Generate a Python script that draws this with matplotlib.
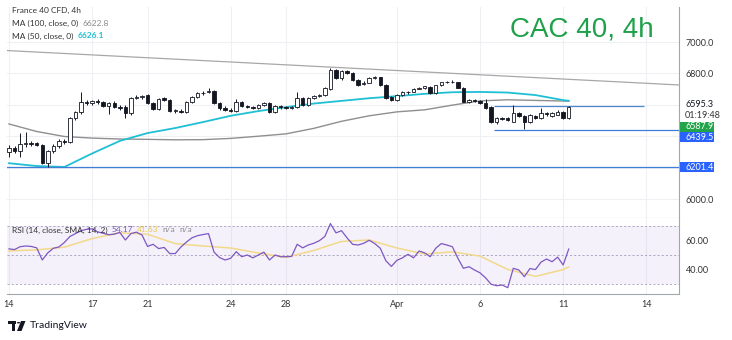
import matplotlib
matplotlib.use("Agg")
import matplotlib.pyplot as plt
from matplotlib.patches import Rectangle, Circle, Polygon
import numpy as np

# 4h candles, 14 Mar -> 11 Apr (5 bars per session)
opens = [6300, 6322, 6306, 6350, 6358, 6354, 6342, 6232, 6305, 6340,
         6370, 6362, 6515, 6552, 6618, 6612, 6622, 6618, 6590, 6614,
         6588, 6585, 6546, 6643, 6650, 6660, 6610, 6575, 6642, 6630,
         6562, 6562, 6552, 6620, 6650, 6675, 6680, 6690, 6611, 6578,
         6570, 6562, 6618, 6592, 6586, 6582, 6600, 6611, 6556, 6590,
         6586, 6582, 6586, 6643, 6600, 6645, 6656, 6662, 6700, 6822,
         6771, 6815, 6803, 6758, 6730, 6742, 6771, 6775, 6728, 6648,
         6630, 6662, 6681, 6684, 6702, 6706, 6716, 6676, 6724, 6744,
         6746, 6743, 6709, 6620, 6632, 6622, 6612, 6584, 6492, 6516,
         6514, 6492, 6548, 6528, 6490, 6530, 6516, 6548, 6530, 6538,
         6556, 6516]
highs = [6344, 6335, 6420, 6427, 6372, 6366, 6350, 6312, 6350, 6382,
         6385, 6525, 6560, 6682, 6632, 6630, 6635, 6625, 6620, 6625,
         6598, 6600, 6652, 6662, 6665, 6668, 6618, 6645, 6650, 6635,
         6575, 6575, 6625, 6655, 6680, 6685, 6707, 6695, 6618, 6590,
         6582, 6640, 6625, 6600, 6595, 6605, 6618, 6616, 6598, 6600,
         6594, 6592, 6682, 6650, 6648, 6662, 6666, 6712, 6834, 6830,
         6822, 6820, 6808, 6765, 6752, 6775, 6782, 6780, 6732, 6655,
         6668, 6685, 6690, 6708, 6712, 6722, 6720, 6728, 6748, 6752,
         6755, 6748, 6712, 6640, 6638, 6628, 6640, 6590, 6525, 6524,
         6520, 6600, 6556, 6536, 6540, 6535, 6580, 6556, 6556, 6566,
         6560, 6595.3]
lows = [6270, 6295, 6268, 6331, 6338, 6335, 6225, 6201.4, 6290, 6325,
        6352, 6355, 6505, 6540, 6600, 6598, 6605, 6585, 6540, 6580,
        6570, 6516, 6538, 6635, 6640, 6605, 6568, 6570, 6622, 6555,
        6550, 6548, 6545, 6612, 6645, 6665, 6675, 6605, 6570, 6560,
        6555, 6555, 6585, 6578, 6574, 6575, 6594, 6550, 6550, 6575,
        6576, 6574, 6580, 6595, 6595, 6640, 6648, 6658, 6694, 6765,
        6760, 6798, 6750, 6722, 6725, 6738, 6765, 6720, 6640, 6625,
        6626, 6655, 6672, 6680, 6698, 6700, 6672, 6670, 6720, 6738,
        6738, 6705, 6615, 6614, 6618, 6608, 6576, 6485, 6480, 6505,
        6498, 6488, 6525, 6445, 6486, 6512, 6512, 6530, 6522, 6532,
        6510, 6512]
closes = [6325, 6306, 6352, 6358, 6352, 6342, 6232, 6305, 6340, 6368,
          6362, 6515, 6552, 6618, 6612, 6622, 6615, 6590, 6612, 6588,
          6582, 6546, 6643, 6650, 6655, 6610, 6575, 6640, 6630, 6560,
          6566, 6555, 6620, 6650, 6675, 6678, 6690, 6611, 6578, 6567,
          6562, 6618, 6592, 6586, 6582, 6600, 6611, 6556, 6592, 6586,
          6582, 6588, 6643, 6600, 6643, 6656, 6660, 6707, 6822, 6771,
          6815, 6803, 6758, 6728, 6742, 6771, 6775, 6728, 6645, 6630,
          6662, 6681, 6684, 6702, 6706, 6718, 6676, 6724, 6744, 6746,
          6743, 6709, 6620, 6632, 6622, 6612, 6582, 6492, 6516, 6512,
          6503, 6548, 6530, 6490, 6532, 6518, 6548, 6540, 6548, 6556,
          6516, 6587.9]

# moving averages, one reading per session
ma_idx = [0, 5, 10, 15, 20, 25, 30, 35, 40, 45, 50,
          55, 60, 65, 70, 75, 80, 85, 90, 95, 100, 101]
ma100 = [6478, 6430, 6398, 6388, 6382, 6380, 6377, 6378, 6386, 6400, 6415,
         6450, 6495, 6530, 6555, 6568, 6598, 6625, 6632, 6628, 6624, 6622.8]
ma50 = [6228, 6210, 6204, 6290, 6370, 6420, 6452, 6490, 6530, 6560, 6585,
        6608, 6625, 6642, 6655, 6670, 6680, 6682, 6678, 6662, 6630, 6626.1]

rsi = [54.3, 53.8, 55.8, 56.3, 56.0, 55.0, 46.5, 51.5, 54.7, 55.6,
       58.8, 63.0, 65.0, 67.0, 68.0, 68.3, 66.2, 65.2, 64.2, 64.6,
       65.8, 60.5, 65.0, 66.0, 64.0, 56.0, 57.5, 54.5, 55.3, 51.0,
       51.0, 55.5, 59.0, 62.0, 63.5, 64.3, 65.0, 52.0, 48.2, 46.5,
       47.7, 52.3, 48.8, 50.0, 48.0, 50.0, 52.0, 46.5, 50.0, 48.8,
       48.8, 49.0, 57.5, 55.0, 57.0, 58.2, 60.0, 63.0, 72.0, 65.5,
       67.0, 62.0, 57.5, 57.0, 58.2, 60.3, 58.0, 54.7, 46.0, 42.0,
       46.3, 48.0, 50.5, 48.0, 52.8, 51.5, 48.8, 54.7, 58.0, 57.0,
       55.8, 47.7, 40.7, 41.8, 39.5, 37.5, 34.0, 29.5, 28.5, 29.0,
       27.1, 40.7, 39.5, 34.8, 40.5, 39.8, 45.0, 47.2, 45.3, 48.5,
       43.0, 54.17]
rsi_sma = [52.9, 53.6, 55.5, 61.5, 65.6, 64.5, 58.0, 56.3, 54.9, 51.4, 48.3,
           53.2, 59.5, 60.5, 54.9, 50.7, 52.2, 49.2, 39.9, 35.0, 39.8, 41.63]

trend_a = (0, 6945)
trend_b = (120, 6728)
range_top = 6595.3
range_bottom = 6439.5
range_span = (87.5, 114.5)
support = 6201.4

day_ticks = [0, 15, 25, 40, 50, 70, 85, 100, 115]
day_labels = ["14", "17", "21", "24", "28", "Apr", "6", "11", "14"]

W, H = 732, 340
FONT = "Lato"
INK = "#131722"
GRID = "#eef0f4"
AXIS = "#a3a6af"
LEG = 6.0

fig = plt.figure(figsize=(W / 100, H / 100), dpi=100)
fig.patch.set_facecolor("white")


def box(x0, y0, x1, y1):
    return [x0 / W, 1 - y1 / H, (x1 - x0) / W, (y1 - y0) / H]


def ftext(px, py, s, **kw):
    kw.setdefault("family", FONT)
    kw.setdefault("va", "center")
    return fig.text(px / W, 1 - py / H, s, **kw)


def legend_row(px, py, parts):
    # parts: list of (text, colour, weight); each piece follows the previous one
    renderer = fig.canvas.get_renderer()
    for s, col, wt in parts:
        t = ftext(px, py, s, size=LEG, color=col, weight=wt)
        px = t.get_window_extent(renderer).x1 + 4


ax = fig.add_axes(box(7, 7, 679, 218))
ax_rsi = fig.add_axes(box(7, 218, 679, 294), sharex=ax)

x = np.arange(len(closes))
o = np.array(opens)
c = np.array(closes)
up = c >= o

# grid
for t in day_ticks:
    ax.axvline(t, color=GRID, lw=0.8, zorder=0)
    ax_rsi.axvline(t, color=GRID, lw=0.8, zorder=0)
for lvl in range(6000, 7001, 200):
    ax.axhline(lvl, color=GRID, lw=0.8, zorder=0)

# price pane
ax.axline(trend_a, trend_b, color="#a8a8a8", lw=0.9, zorder=1)
ax.plot(ma_idx, ma100, color="#8f8f8f", lw=1.0, zorder=1)
ax.plot(ma_idx, ma50, color="#1fbfd4", lw=1.3, zorder=1)
ax.hlines(range_top, *range_span, color="#4a86c8", lw=0.9, zorder=1)
ax.hlines(range_bottom, range_span[0], 125, color="#3d7fd6", lw=0.9, zorder=1)
ax.axhline(support, color="#3d7fd6", lw=0.9, zorder=1)

ax.vlines(x, lows, highs, color=INK, lw=0.7, zorder=2)
ax.bar(x, np.maximum(np.abs(c - o), 0.5), bottom=np.minimum(o, c), width=0.62,
       color=np.where(up, "white", INK), edgecolor=INK, linewidth=0.6, zorder=3)

ax.set_xlim(-0.36, 120.9)
ax.set_ylim(5879, 7223)
ax.yaxis.tick_right()
ax.set_yticks(list(range(6000, 7001, 200)))
ax.set_yticklabels(["6000.0", "", "", "", "6800.0", "7000.0"])
ax.tick_params(axis="y", length=0, pad=5, labelsize=6.5, labelcolor="#333333")
ax.tick_params(axis="x", length=0, labelbottom=False)
for lab in ax.get_yticklabels():
    lab.set_family(FONT)
for side in ("top", "left"):
    ax.spines[side].set_visible(False)
for side in ("right", "bottom"):
    ax.spines[side].set_color(AXIS)
    ax.spines[side].set_linewidth(0.8)

# RSI pane
ax_rsi.axhspan(30, 70, color="#7e57c2", alpha=0.08, lw=0, zorder=0)
for lvl in (70, 50, 30):
    ax_rsi.axhline(lvl, color="#a29bb8", lw=0.6, ls=(0, (2.5, 2.5)), zorder=1)
ax_rsi.plot(ma_idx, rsi_sma, color="#f2d98a", lw=1.1, zorder=2)
ax_rsi.plot(x, rsi, color="#7e57c2", lw=0.9, zorder=3)
ax_rsi.set_ylim(22.7, 75.9)
ax_rsi.yaxis.tick_right()
ax_rsi.set_yticks([40, 60])
ax_rsi.set_yticklabels(["40.00", "60.00"])
ax_rsi.set_xticks(day_ticks)
ax_rsi.set_xticklabels(day_labels)
ax_rsi.tick_params(axis="both", length=0, labelsize=6.5, labelcolor="#333333")
ax_rsi.tick_params(axis="y", pad=5)
ax_rsi.tick_params(axis="x", pad=4)
for lab in ax_rsi.get_yticklabels() + ax_rsi.get_xticklabels():
    lab.set_family(FONT)
for side in ("top", "left"):
    ax_rsi.spines[side].set_visible(False)
for side in ("right", "bottom"):
    ax_rsi.spines[side].set_color(AXIS)
    ax_rsi.spines[side].set_linewidth(0.8)

fig.canvas.draw()

# legends
ftext(12, 10, "France 40 CFD, 4h", size=LEG, color="#333333")
legend_row(12, 23, [("MA (100, close, 0)", "#333333", "normal"),
                    (f"{ma100[-1]:.1f}", "#8a8a8a", "normal")])
legend_row(12, 36, [("MA (50, close, 0)", "#333333", "normal"),
                    (f"{ma50[-1]:.1f}", "#1fbfd4", "bold")])
legend_row(12, 230, [("RSI (14, close, SMA, 14, 2)", "#333333", "normal"),
                     (f"{rsi[-1]:.2f}", "#7e57c2", "normal"),
                     (f"{rsi_sma[-1]:.2f}", "#ecc94b", "normal"),
                     ("n/a", "#8a8a8a", "normal"),
                     ("n/a", "#8a8a8a", "normal")])

ftext(510, 30, "CAC 40, 4h", size=20, color="#1fa04a", family="Liberation Sans")


# price tags on the right scale
def ypix(value):
    return H - ax.transData.transform((0, value))[1]


ftext(685, ypix(range_top) - 1.5, f"{range_top:.1f}", size=6.5, color=INK)
ftext(685, ypix(range_top) + 9.5, "01:19:48", size=6.5, color="#333333")
for value, shift, col in ((closes[-1], 20, "#21a44a"),
                          (range_bottom, 7, "#2962ff"),
                          (support, 0, "#2962ff")):
    yc = ypix(value) + shift
    fig.patches.append(Rectangle((680 / W, 1 - (yc + 5) / H), 34 / W, 10 / H,
                                 transform=fig.transFigure, color=col, lw=0))
    ftext(685, yc, f"{value:.1f}", size=6.5, color="white")

# TradingView mark
fig.patches.append(Rectangle((8 / W, 1 - 324 / H), 8 / W, 3 / H,
                             transform=fig.transFigure, color=INK, lw=0))
fig.patches.append(Rectangle((11.5 / W, 1 - 331 / H), 3 / W, 10 / H,
                             transform=fig.transFigure, color=INK, lw=0))
fig.patches.append(Circle((18.5 / W, 1 - 322.7 / H), 1.6 / W,
                          transform=fig.transFigure, color=INK, lw=0))
fig.patches.append(Polygon([(21 / W, 1 - 321 / H), (25.5 / W, 1 - 321 / H),
                            (21.5 / W, 1 - 331 / H), (17 / W, 1 - 331 / H)],
                           transform=fig.transFigure, color=INK, lw=0))
ftext(30, 326, "TradingView", size=7.5, color=INK)

fig.savefig("out.png", dpi=100)
